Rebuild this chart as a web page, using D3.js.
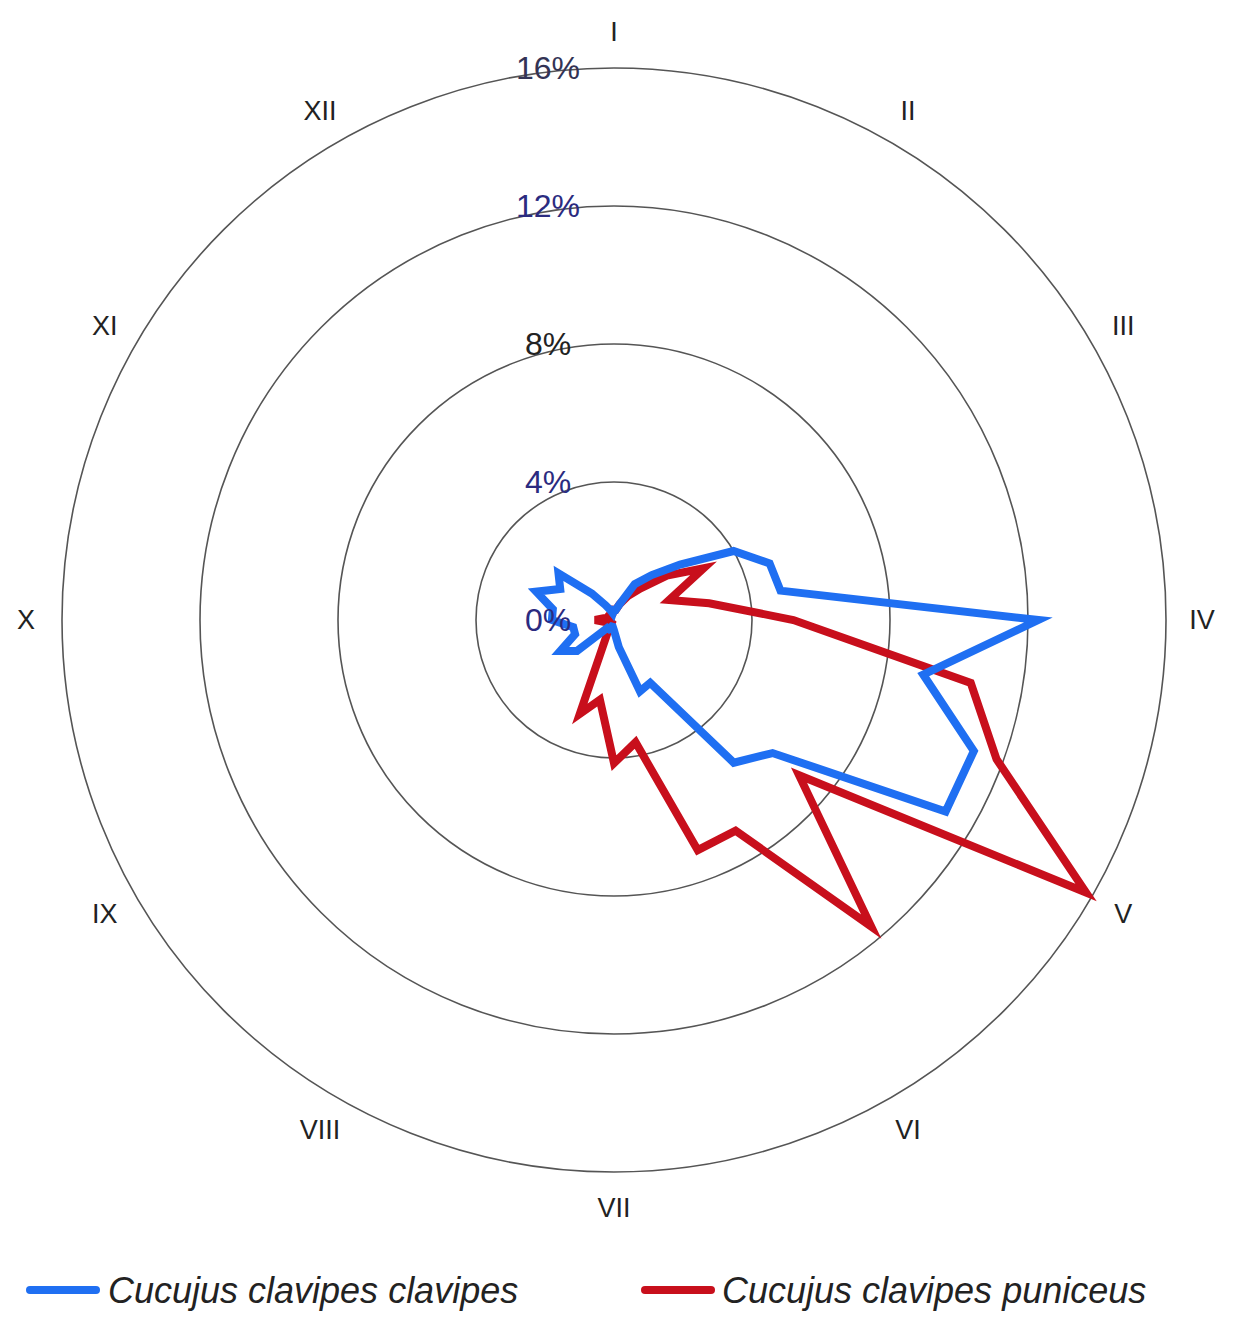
<!DOCTYPE html>
<html><head><meta charset="utf-8">
<script src="https://cdn.jsdelivr.net/npm/d3@7"></script>
<style>body{margin:0;background:#fff}</style></head>
<body><svg id="c" width="1236" height="1334"></svg>
<script>
const months = ["I","II","III","IV","V","VI","VII","VIII","IX","X","XI","XII"];
const ticks = [0,4,8,12,16];
const tickColors = ["#2b2b80","#2b2b80","#222","#2b2b80","#333355"];
// 36 ten-day periods, % of records
const clavipes = [0.3,0.3,0.5,1.2,1.7,2.5,4.0,4.8,4.9,12.3,9.1,11.1,11.1,6.0,5.4,2.1,2.2,0.8,0.3,0.2,0.2,0.3,0.3,1.4,1.8,1.2,1.2,1.8,1.8,2.4,1.8,2.1,1.0,0.5,0.3,0.2];
const puniceus = [0.3,0.3,0.5,0.8,1.2,2.0,3.0,1.7,2.8,5.2,10.5,11.8,15.8,7.0,11.6,7.05,7.1,3.6,4.15,2.35,2.9,0.3,0.1,0.1,0.1,0.2,0.3,0.55,0.3,0.2,0.2,0.2,0.2,0.2,0.2,0.2];
const seriesNames = ["Cucujus clavipes clavipes","Cucujus clavipes puniceus"];
const seriesColors = ["#1f6ff2","#c80f1c"];

const svg = d3.select("#c");
const cx = 614, cy = 620;
const r = d3.scaleLinear().domain([0,16]).range([0,552]);
const ang = d3.scaleLinear().domain([0,36]).range([0,2*Math.PI]);
const g = svg.append("g").attr("transform",`translate(${cx},${cy})`);

ticks.slice(1).forEach(t=>{
  g.append("circle").attr("r",r(t)).attr("fill","none").attr("stroke","#555").attr("stroke-width",1.6);
});
months.forEach((m,i)=>{
  const a = i*Math.PI/6, R = 588;
  g.append("text").attr("x",R*Math.sin(a)).attr("y",-R*Math.cos(a)).attr("dy","0.35em")
   .attr("text-anchor","middle").attr("font-family","Liberation Sans, Arial, sans-serif").attr("font-size",27).attr("fill","#222").text(m);
});
const line = d3.lineRadial().angle((d,i)=>ang(i)).radius(d=>r(d)).curve(d3.curveLinearClosed);
[puniceus, clavipes].forEach((s,k)=>{
  g.append("path").attr("d",line(s)).attr("fill","none").attr("stroke",seriesColors[1-k])
   .attr("stroke-width",8).attr("stroke-linejoin","miter");
});
ticks.forEach((t,i)=>{
  g.append("text").attr("x",-66).attr("y",-r(t)).attr("dy","0.35em").attr("text-anchor","middle")
   .attr("font-family","Liberation Sans, Arial, sans-serif").attr("font-size",32).attr("fill",tickColors[i]).text(t+"%");
});
// legend
const lg = svg.append("g");
[[30,108],[645,722]].forEach((p,i)=>{
  lg.append("line").attr("x1",p[0]).attr("x2",p[0]+66).attr("y1",1290).attr("y2",1290)
   .attr("stroke",seriesColors[i]).attr("stroke-width",8).attr("stroke-linecap","round");
  lg.append("text").attr("x",p[1]).attr("y",1290).attr("dy","0.35em").attr("font-family","Liberation Sans, Arial, sans-serif")
   .attr("font-style","italic").attr("font-size",36).attr("fill","#222").text(seriesNames[i]);
});
</script></body></html>
